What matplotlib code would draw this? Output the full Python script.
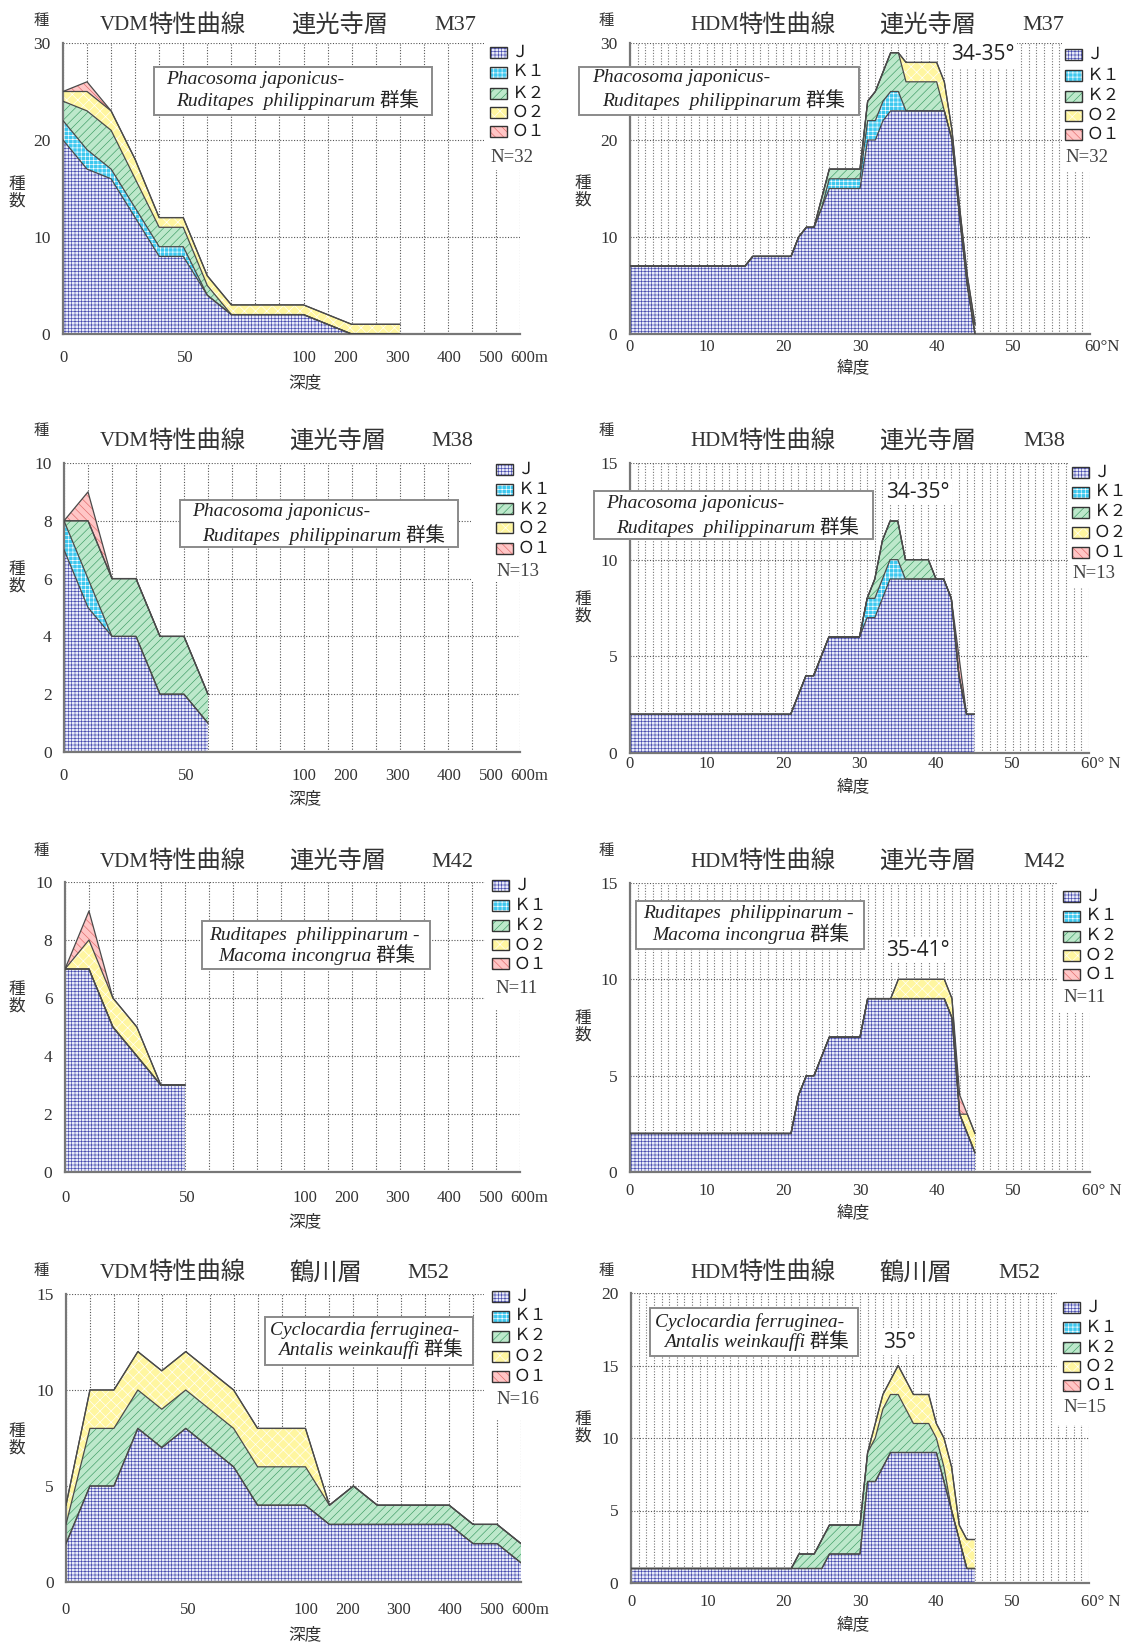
import matplotlib
matplotlib.use('Agg')
import matplotlib.pyplot as plt
import matplotlib.transforms as mtransforms
import numpy as np
from matplotlib.patches import Rectangle

plt.rcParams['hatch.linewidth'] = 0.45

W, H = 1128, 1646
SERIF = ['Liberation Serif', 'Noto Sans CJK JP']
CJK = ['Noto Sans CJK JP', 'DejaVu Sans']
INK = '#333333'

# ---------------- data ----------------
# VDM: depth classes, one grid column each
depth = [0, 10, 20, 30, 40, 50, 60, 70, 80, 90, 100, 150, 200, 250, 300, 350, 400, 450, 500, 600]
depth_tick_pos = [0, 5.1, 10, 11.75, 13.9, 16.05, 17.8, 19.4]
depth_tick_lab = ['0', '50', '100', '200', '300', '400', '500', '600m']

# HDM: latitude 0-45 N, 1 degree steps
lat = list(range(46))
lat_tick_pos = [0, 10, 20, 30, 40, 50, 61.5]

# M37 VDM
vdm37_J  = [20, 17, 16, 12, 8, 8, 4, 2, 2, 2, 2, 1, 0, 0, 0]
vdm37_K1 = [2, 2, 1, 1, 1, 1, 0, 0, 0, 0, 0, 0, 0, 0, 0]
vdm37_K2 = [2, 4, 4, 3, 2, 2, 1, 0, 0, 0, 0, 0, 0, 0, 0]
vdm37_O2 = [1, 2, 2, 2, 1, 1, 1, 1, 1, 1, 1, 1, 1, 1, 1]
vdm37_O1 = [0, 1, 0, 0, 0, 0, 0, 0, 0, 0, 0, 0, 0, 0, 0]

# M38 VDM
vdm38_J  = [7, 5, 4, 4, 2, 2, 1]
vdm38_K1 = [1, 1, 0, 0, 0, 0, 0]
vdm38_K2 = [0, 2, 2, 2, 2, 2, 1]
vdm38_O2 = [0, 0, 0, 0, 0, 0, 0]
vdm38_O1 = [0, 1, 0, 0, 0, 0, 0]

# M42 VDM
vdm42_J  = [7, 7, 5, 4, 3, 3]
vdm42_K1 = [0, 0, 0, 0, 0, 0]
vdm42_K2 = [0, 0, 0, 0, 0, 0]
vdm42_O2 = [0, 1, 1, 1, 0, 0]
vdm42_O1 = [0, 1, 0, 0, 0, 0]

# M52 VDM
vdm52_J  = [2, 5, 5, 8, 7, 8, 7, 6, 4, 4, 4, 3, 3, 3, 3, 3, 3, 2, 2, 1]
vdm52_K1 = [0, 0, 0, 0, 0, 0, 0, 0, 0, 0, 0, 0, 0, 0, 0, 0, 0, 0, 0, 0]
vdm52_K2 = [1, 3, 3, 2, 2, 2, 2, 2, 2, 2, 2, 1, 2, 1, 1, 1, 1, 1, 1, 1]
vdm52_O2 = [1, 2, 2, 2, 2, 2, 2, 2, 2, 2, 2, 0, 0, 0, 0, 0, 0, 0, 0, 0]
vdm52_O1 = [0, 0, 0, 0, 0, 0, 0, 0, 0, 0, 0, 0, 0, 0, 0, 0, 0, 0, 0, 0]

# M37 HDM
hdm37_J  = [7, 7, 7, 7, 7, 7, 7, 7, 7, 7,
            7, 7, 7, 7, 7, 7, 8, 8, 8, 8,
            8, 8, 10, 11, 11, 13, 15, 15, 15, 15,
            15, 20, 20, 22, 23, 23, 23, 23, 23, 23,
            23, 23, 20, 12, 5, 0]
hdm37_K1 = [0, 0, 0, 0, 0, 0, 0, 0, 0, 0,
            0, 0, 0, 0, 0, 0, 0, 0, 0, 0,
            0, 0, 0, 0, 0, 0, 1, 1, 1, 1,
            1, 2, 2, 2, 2, 2, 0, 0, 0, 0,
            0, 0, 0, 0, 0, 0]
hdm37_K2 = [0, 0, 0, 0, 0, 0, 0, 0, 0, 0,
            0, 0, 0, 0, 0, 0, 0, 0, 0, 0,
            0, 0, 0, 0, 0, 1, 1, 1, 1, 1,
            1, 2, 3, 3, 4, 4, 3, 3, 3, 3,
            3, 0, 0, 0, 0, 0]
hdm37_O2 = [0, 0, 0, 0, 0, 0, 0, 0, 0, 0,
            0, 0, 0, 0, 0, 0, 0, 0, 0, 0,
            0, 0, 0, 0, 0, 0, 0, 0, 0, 0,
            0, 0, 0, 0, 0, 0, 2, 2, 2, 2,
            2, 3, 1, 1, 1, 1]
hdm37_O1 = [0] * 46

# M38 HDM
hdm38_J  = [2, 2, 2, 2, 2, 2, 2, 2, 2, 2,
            2, 2, 2, 2, 2, 2, 2, 2, 2, 2,
            2, 2, 3, 4, 4, 5, 6, 6, 6, 6,
            6, 7, 7, 8, 9, 9, 9, 9, 9, 9,
            9, 9, 8, 4, 2, 2]
hdm38_K1 = [0, 0, 0, 0, 0, 0, 0, 0, 0, 0,
            0, 0, 0, 0, 0, 0, 0, 0, 0, 0,
            0, 0, 0, 0, 0, 0, 0, 0, 0, 0,
            0, 1, 1, 1, 1, 1, 0, 0, 0, 0,
            0, 0, 0, 0, 0, 0]
hdm38_K2 = [0, 0, 0, 0, 0, 0, 0, 0, 0, 0,
            0, 0, 0, 0, 0, 0, 0, 0, 0, 0,
            0, 0, 0, 0, 0, 0, 0, 0, 0, 0,
            0, 0, 1, 2, 2, 2, 1, 1, 1, 1,
            0, 0, 0, 0, 0, 0]
hdm38_O2 = [0] * 46
hdm38_O1 = [0, 0, 0, 0, 0, 0, 0, 0, 0, 0,
            0, 0, 0, 0, 0, 0, 0, 0, 0, 0,
            0, 0, 0, 0, 0, 0, 0, 0, 0, 0,
            0, 0, 0, 0, 0, 0, 0, 0, 0, 0,
            0, 0, 0, 1, 0, 0]

# M42 HDM
hdm42_J  = [2, 2, 2, 2, 2, 2, 2, 2, 2, 2,
            2, 2, 2, 2, 2, 2, 2, 2, 2, 2,
            2, 2, 4, 5, 5, 6, 7, 7, 7, 7,
            7, 9, 9, 9, 9, 9, 9, 9, 9, 9,
            9, 9, 8, 3, 2, 1]
hdm42_K1 = [0] * 46
hdm42_K2 = [0] * 46
hdm42_O2 = [0, 0, 0, 0, 0, 0, 0, 0, 0, 0,
            0, 0, 0, 0, 0, 0, 0, 0, 0, 0,
            0, 0, 0, 0, 0, 0, 0, 0, 0, 0,
            0, 0, 0, 0, 0, 1, 1, 1, 1, 1,
            1, 1, 1, 0, 1, 1]
hdm42_O1 = [0, 0, 0, 0, 0, 0, 0, 0, 0, 0,
            0, 0, 0, 0, 0, 0, 0, 0, 0, 0,
            0, 0, 0, 0, 0, 0, 0, 0, 0, 0,
            0, 0, 0, 0, 0, 0, 0, 0, 0, 0,
            0, 0, 0, 1, 0, 0]

# M52 HDM
hdm52_J  = [1, 1, 1, 1, 1, 1, 1, 1, 1, 1,
            1, 1, 1, 1, 1, 1, 1, 1, 1, 1,
            1, 1, 1, 1, 1, 1, 2, 2, 2, 2,
            2, 7, 7, 8, 9, 9, 9, 9, 9, 9,
            9, 7, 5, 3, 1, 1]
hdm52_K1 = [0] * 46
hdm52_K2 = [0, 0, 0, 0, 0, 0, 0, 0, 0, 0,
            0, 0, 0, 0, 0, 0, 0, 0, 0, 0,
            0, 0, 1, 1, 1, 2, 2, 2, 2, 2,
            2, 2, 3, 4, 4, 4, 3, 2, 2, 2,
            1, 1, 0, 0, 0, 0]
hdm52_O2 = [0, 0, 0, 0, 0, 0, 0, 0, 0, 0,
            0, 0, 0, 0, 0, 0, 0, 0, 0, 0,
            0, 0, 0, 0, 0, 0, 0, 0, 0, 0,
            0, 0, 1, 1, 1, 2, 2, 2, 2, 2,
            1, 2, 3, 1, 2, 2]
hdm52_O1 = [0] * 46

# ---------------- styles ----------------
layer_names = ['Ｊ', 'Ｋ１', 'Ｋ２', 'Ｏ２', 'Ｏ１']
layer_face = ['#e8eaf8', '#3cc8ef', '#bde8cb', '#fff6a0', '#ffc6c6']
layer_hatch = ['+++++', '++++', '////', 'xxx', '\\\\\\\\']
layer_hcol = ['#4448ae', '#ffffff', '#3c9c64', '#ffffff', '#e06868']

fig = plt.figure(figsize=(W / 100, H / 100), dpi=100)


def fx(x):
    return x / W


def fy(y):
    return 1 - y / H


def make_axes(left, top, right, bottom):
    return fig.add_axes([fx(left), fy(bottom), (right - left) / W, (bottom - top) / H])


def draw_stack(ax, x, layers):
    base = np.zeros(len(x))
    tops = []
    for i, vals in enumerate(layers):
        top = base + np.array(vals, dtype=float)
        ax.fill_between(x, base, top, facecolor=layer_face[i], hatch=layer_hatch[i],
                        edgecolor=layer_hcol[i], linewidth=0, zorder=2)
        tops.append(top)
        base = top
    for t in tops:
        ax.plot(x, t, color='#4a4a4a', lw=0.9, zorder=3)


def style_axes(ax, xmax, xgrid, ymax, ystep, xt_pos, xt_lab, off, gridcol):
    ax.set_xlim(0, xmax)
    ax.set_ylim(0, ymax)
    ax.set_axisbelow(True)
    ax.set_yticks(np.arange(0, ymax + 1, ystep))
    ax.set_xticks(xgrid, minor=True)
    ax.set_xticks([])
    ax.grid(axis='y', which='major', ls=(0, (1, 1.5)), color='#555555', lw=0.8)
    ax.grid(axis='x', which='minor', ls=(0, (1, 1.5)), color=gridcol, lw=0.8)
    ax.tick_params(which='both', length=0, labelsize=12.5, labelcolor=INK,
                   labelfontfamily='Liberation Serif')
    ax.tick_params(axis='y', pad=9)
    ax.tick_params(axis='x', which='minor', labelbottom=False)
    ax.spines['top'].set_visible(False)
    ax.spines['right'].set_visible(False)
    for s in ['left', 'bottom']:
        ax.spines[s].set_color('#777777')
        ax.spines[s].set_linewidth(1.6)
    # x labels as text (some sit outside the plotted range)
    trans = mtransforms.offset_copy(ax.get_xaxis_transform(), fig=fig, x=0, y=-off, units='dots')
    for p, lab in zip(xt_pos, xt_lab):
        ax.text(p, 0, lab, transform=trans, ha='center', va='center', clip_on=False,
                size=12, family='Liberation Serif', color=INK)


def ftext(x, y, s, size, family=SERIF, **kw):
    kw.setdefault('ha', 'center')
    kw.setdefault('va', 'center')
    kw.setdefault('color', INK)
    fig.text(fx(x), fy(y), s, size=size, family=family, **kw)


def legend(px, lx, ys, ntext, nx, ny, cover):
    x0, y0, x1, y1 = cover
    fig.add_artist(Rectangle((fx(x0), fy(y1)), (x1 - x0) / W, (y1 - y0) / H,
                             transform=fig.transFigure, facecolor='white',
                             edgecolor='none', zorder=1.5))
    for i, y in enumerate(ys):
        xy = (fx(px - 8.5), fy(y + 5.5))
        fig.add_artist(Rectangle(xy, 17 / W, 11 / H, transform=fig.transFigure,
                                 facecolor=layer_face[i], hatch=layer_hatch[i],
                                 edgecolor=layer_hcol[i], lw=0, zorder=2))
        fig.add_artist(Rectangle(xy, 17 / W, 11 / H, transform=fig.transFigure,
                                 fill=False, edgecolor='#333333', lw=1.0, zorder=2.1))
        ftext(lx, y, layer_names[i], 12, family=CJK, ha='left', color='#1e1e1e')
    ftext(nx, ny, ntext, 13.5, family='Liberation Serif', color='#444444')


def species_box(box, l1, p1, l2, p2):
    x0, y0, x1, y1 = box
    fig.add_artist(Rectangle((fx(x0), fy(y1)), (x1 - x0) / W, (y1 - y0) / H,
                             transform=fig.transFigure, facecolor='white',
                             edgecolor='#8a8a8a', lw=1.4, zorder=2))
    ftext(p1[0], p1[1], l1, 14, ha='left', style='italic', color='#222222')
    ftext(p2[0], p2[1], l2, 14, ha='left', style='italic', color='#222222')


def zone_label(x, y, s):
    fig.text(fx(x), fy(y), s, ha='center', va='center', size=15, family='Open Sans',
             color='#222222', bbox=dict(facecolor='white', edgecolor='none', pad=1.5))


# ---------------- VDM panels (left column) ----------------
vdm_rows = [
    ((63, 43, 520, 334), 30, 10, [vdm37_J, vdm37_K1, vdm37_K2, vdm37_O2, vdm37_O1], 24),
    ((64, 463, 520, 752), 10, 2, [vdm38_J, vdm38_K1, vdm38_K2, vdm38_O2, vdm38_O1], 24),
    ((65, 882, 520, 1172), 10, 2, [vdm42_J, vdm42_K1, vdm42_K2, vdm42_O2, vdm42_O1], 26),
    ((66, 1294, 521, 1582), 15, 5, [vdm52_J, vdm52_K1, vdm52_K2, vdm52_O2, vdm52_O1], 28),
]
for rect, ymax, ystep, layers, off in vdm_rows:
    ax = make_axes(*rect)
    n = len(layers[0])
    draw_stack(ax, np.arange(n), layers)
    style_axes(ax, len(depth) - 1, range(len(depth)), ymax, ystep,
               depth_tick_pos, depth_tick_lab, off, '#555555')

# ---------------- HDM panels (right column) ----------------
hdm_rows = [
    ((630, 43, 1090, 334), 30, 10, [hdm37_J, hdm37_K1, hdm37_K2, hdm37_O2, hdm37_O1], 13, '60°N'),
    ((630, 463, 1089, 753), 15, 5, [hdm38_J, hdm38_K1, hdm38_K2, hdm38_O2, hdm38_O1], 11, '60° N'),
    ((630, 883, 1090, 1172), 15, 5, [hdm42_J, hdm42_K1, hdm42_K2, hdm42_O2, hdm42_O1], 19, '60° N'),
    ((631, 1293, 1089, 1583), 20, 5, [hdm52_J, hdm52_K1, hdm52_K2, hdm52_O2, hdm52_O1], 19, '60° N'),
]
for rect, ymax, ystep, layers, off, last in hdm_rows:
    ax = make_axes(*rect)
    draw_stack(ax, np.array(lat), layers)
    style_axes(ax, 60, range(61), ymax, ystep, lat_tick_pos,
               ['0', '10', '20', '30', '40', '50', last], off, '#777777')

# ---------------- titles & axis words ----------------
row_y = [26, 442, 862, 1273]
formations = ['連光寺層', '連光寺層', '連光寺層', '鶴川層']
samples = ['M37', 'M38', 'M42', 'M52']
form_x_left = [340, 338, 338, 326]
form_x_right = [928, 928, 928, 916]
samp_x_left = [455, 452, 452, 428]
samp_x_right = [1043, 1044, 1044, 1019]
for i in range(4):
    y = row_y[i]
    ftext(149, y, 'VDM', 15, ha='right')
    ftext(148, y, '特性曲線', 17.5, ha='left')
    ftext(form_x_left[i], y, formations[i], 17.5)
    ftext(samp_x_left[i], y, samples[i], 16)
    ftext(739, y, 'HDM', 15, ha='right')
    ftext(738, y, '特性曲線', 17.5, ha='left')
    ftext(form_x_right[i], y, formations[i], 17.5)
    ftext(samp_x_right[i], y, samples[i], 16)

top_mark_y = [20, 430, 850, 1271]
for y in top_mark_y:
    ftext(41, y, '種', 11, family=CJK)
    ftext(606, y, '種', 11, family=CJK)

ylab_left = [193, 578, 998, 1440]
ylab_right = [192, 608, 1027, 1428]
for yl, yr in zip(ylab_left, ylab_right):
    ftext(17, yl, '種\n数', 12, family=CJK, linespacing=1.0)
    ftext(583, yr, '種\n数', 12, family=CJK, linespacing=1.0)

xlab_left = [383, 799, 1222, 1635]
xlab_right = [368, 787, 1213, 1625]
for yl, yr in zip(xlab_left, xlab_right):
    ftext(305, yl, '深度', 12, family=CJK)
    ftext(853, yr, '緯度', 12, family=CJK)

# ---------------- legends ----------------
legend(498, 512, [52, 72, 93, 112, 131], 'N=32', 512, 157, (484, 40, 532, 170))
legend(1073, 1087, [54, 75, 96, 115, 134], 'N=32', 1087, 157, (1062, 40, 1128, 172))
legend(504, 518, [469, 489, 509, 528, 548], 'N=13', 518, 571, (471, 455, 535, 582))
legend(1080, 1094, [472, 492, 512, 532, 552], 'N=13', 1094, 574, (1068, 455, 1128, 587))
legend(500, 514, [885, 905, 925, 945, 964], 'N=11', 517, 988, (485, 875, 535, 1010))
legend(1071, 1085, [896, 916, 936, 955, 974], 'N=11', 1085, 998, (1058, 875, 1128, 1013))
legend(500, 514, [1296, 1316, 1336, 1356, 1376], 'N=16', 518, 1399, (484, 1285, 535, 1420))
legend(1071, 1085, [1307, 1327, 1347, 1366, 1385], 'N=15', 1085, 1408, (1057, 1285, 1128, 1425))

# ---------------- assemblage boxes ----------------
pj1 = 'Phacosoma japonicus-'
pj2 = 'Ruditapes  philippinarum 群集'
rm1 = 'Ruditapes  philippinarum -'
rm2 = 'Macoma incongrua 群集'
ca1 = 'Cyclocardia ferruginea-'
ca2 = 'Antalis weinkauffi 群集'
species_box((154, 67, 432, 115), pj1, (166, 79), pj2, (176, 100))
species_box((579, 67, 859, 115), pj1, (592, 78), pj2, (602, 100))
species_box((180, 500, 458, 547), pj1, (192, 512), pj2, (202, 535))
species_box((594, 491, 873, 539), pj1, (606, 504), pj2, (616, 527))
species_box((202, 921, 430, 969), rm1, (209, 936), rm2, (218, 955))
species_box((636, 901, 864, 949), rm1, (643, 914), rm2, (652, 934))
species_box((265, 1317, 473, 1365), ca1, (270, 1330), ca2, (278, 1349))
species_box((650, 1308, 858, 1356), ca1, (655, 1322), ca2, (664, 1341))

# ---------------- latitude of maximum ----------------
zone_label(983, 55, '34-35°')
zone_label(918, 492, '34-35°')
zone_label(918, 950, '35-41°')
zone_label(899, 1342, '35°')

fig.savefig('out.png', dpi=100, facecolor='white')
